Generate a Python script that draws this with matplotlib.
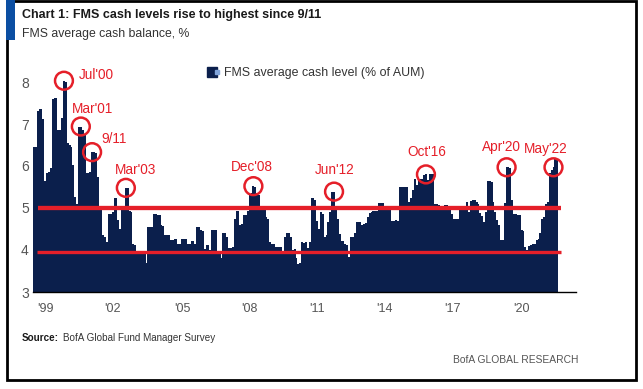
import matplotlib
matplotlib.use('Agg')
import matplotlib.pyplot as plt
from matplotlib.patches import Rectangle
from matplotlib.lines import Line2D
from matplotlib.legend_handler import HandlerTuple

plt.rcParams['font.family'] = ['Liberation Sans', 'DejaVu Sans']

# FMS average cash level (% of AUM), monthly, 1999 -> mid 2022
cash = [
    6.45, 6.45, 7.3, 7.35, 7.35, 7.13, 5.65, 5.83, 5.85, 5.95,
    7.6, 7.63, 7.63, 6.86, 6.86, 7.14, 8.03, 8.0, 6.54, 6.5,
    6.45, 6.02, 5.27, 5.1, 6.94, 6.94, 6.85, 6.74, 5.83, 5.83,
    5.85, 6.33, 6.33, 6.3, 5.75, 5.03, 5.03, 4.36, 4.3, 4.2,
    4.86, 4.86, 4.9, 5.25, 5.25, 4.71, 4.5, 4.97, 4.99, 5.48,
    5.48, 4.92, 4.9, 4.14, 4.12, 3.93, 3.93, 3.9, 3.9, 3.92,
    3.68, 4.54, 4.54, 4.55, 4.86, 4.86, 4.84, 4.84, 4.6, 4.56,
    4.36, 4.36, 4.36, 4.24, 4.25, 4.27, 4.27, 4.14, 4.14, 4.27,
    4.27, 4.26, 4.14, 4.14, 4.21, 4.21, 4.14, 4.54, 4.54, 4.47,
    4.45, 4.02, 4.12, 4.12, 3.99, 4.48, 4.48, 4.48, 3.92, 3.9,
    3.8, 4.4, 4.4, 4.3, 4.05, 4.05, 4.06, 4.75, 4.93, 4.93,
    4.6, 4.62, 4.83, 4.83, 4.93, 5.33, 5.35, 5.52, 5.5, 5.35,
    5.3, 5.03, 4.95, 4.95, 4.78, 4.75, 4.2, 4.14, 4.14, 4.06,
    4.06, 4.06, 4.06, 3.92, 4.32, 4.41, 4.41, 4.3, 4.0, 4.02,
    3.8, 3.66, 3.7, 4.2, 4.16, 4.18, 4.05, 4.2, 5.23, 5.23,
    5.2, 4.7, 4.5, 4.9, 4.85, 4.32, 4.35, 4.67, 4.9, 5.39,
    5.39, 4.98, 4.74, 4.38, 4.22, 4.22, 4.14, 4.12, 3.84, 4.32,
    4.32, 4.4, 4.67, 4.67, 4.67, 4.6, 4.62, 4.65, 4.79, 4.87,
    4.9, 4.92, 4.92, 4.93, 5.11, 5.12, 5.13, 5.0, 5.0, 4.97,
    4.97, 4.7, 4.7, 4.71, 4.7, 5.5, 5.5, 5.51, 5.51, 5.5,
    5.15, 5.25, 5.43, 5.68, 5.55, 5.68, 5.68, 5.7, 5.78, 5.8,
    5.66, 5.81, 5.81, 5.8, 5.1, 5.1, 5.08, 4.95, 5.0, 5.08,
    5.08, 4.95, 4.95, 4.85, 4.75, 4.75, 4.75, 4.95, 4.95, 5.0,
    5.05, 5.15, 4.9, 5.17, 5.18, 5.19, 5.15, 5.1, 4.87, 4.8,
    4.67, 4.9, 5.65, 5.65, 5.63, 5.15, 4.9, 4.71, 4.6, 4.24,
    4.24, 5.11, 5.97, 5.97, 5.95, 5.2, 4.86, 4.86, 4.83, 4.83,
    4.48, 4.45, 4.08, 3.99, 4.1, 4.12, 4.15, 4.15, 4.24, 4.27,
    4.4, 4.73, 4.79, 5.1, 5.15, 5.83, 5.9, 5.97, 6.18, 6.16,
]

year_labels = ["'99", "'02", "'05", "'08", "'11", "'14", "'17", "'20"]
year_pos = [6, 42, 79, 115, 151, 187, 223, 260]   # bar index under each label

# (label, bar index, text offset x/y in pixels, alignment)
callouts = [
    ("Jul'00", 16, 15, 6, 'left'),
    ("Mar'01", 25, 12, 18, 'center'),
    ("9/11", 31, 9, 13, 'left'),
    ("Mar'03", 49, 10, 18, 'center'),
    ("Dec'08", 117, -2, 19, 'center'),
    ("Jun'12", 160, 1, 22, 'center'),
    ("Oct'16", 209, 1, 22, 'center'),
    ("Apr'20", 252, -5, 20, 'center'),
    ("May'22", 277, -8, 18, 'center'),
]

sell_level = 5.0
buy_level = 3.95

NAVY = '#0b1f4c'
RED = '#e51f29'
GREY = '#555555'

W, H = 643, 389
fig = plt.figure(figsize=(W / 100, H / 100), dpi=100)

def fx(px):
    return px / W

def fy(py):
    return 1 - py / H

ax = fig.add_axes([fx(33), fy(292), fx(576) - fx(33), fy(61) - fy(292)])
ax.bar(range(len(cash)), cash, width=1.0, color=NAVY, linewidth=0)
ax.set_ylim(3, 8.5)
ax.set_xlim(-0.5, 289)

ax.hlines(sell_level, 2.2, 281, color=RED, lw=3.1, zorder=4)
ax.hlines(buy_level, 1.5, 281, color=RED, lw=2.4, zorder=4)

for label, i, dx, dy, ha in callouts:
    ax.scatter([i], [cash[i]], s=165, facecolors='none', edgecolors=RED,
               linewidths=1.8, zorder=5, clip_on=False)
    ax.annotate(label, (i, cash[i]), xytext=(dx, dy), textcoords='offset pixels',
                ha=ha, va='center', color=RED, fontsize=9.8)

ax.set_yticks([3, 4, 5, 6, 7, 8])
ax.set_xticks(year_pos)
ax.set_xticklabels(year_labels)
ax.tick_params(axis='y', length=0, pad=3, labelsize=10, labelcolor=GREY)
ax.tick_params(axis='x', length=0, pad=8, labelsize=9, labelcolor=GREY)
for s in ['top', 'right', 'left']:
    ax.spines[s].set_visible(False)
ax.spines['bottom'].set_linewidth(1)
ax.spines['bottom'].set_color('black')

leg_handle = (Line2D([], [], marker='s', ms=7, color=NAVY, ls=''),
              Line2D([], [], marker='s', ms=2.5, color='#7fa3d9', ls=''))
fig.legend([leg_handle], ['FMS average cash level (% of AUM)'],
           handler_map={tuple: HandlerTuple(ndivide=None)},
           loc='center left', bbox_to_anchor=(fx(209), fy(73)), frameon=False,
           fontsize=8.9, handlelength=0.9, handletextpad=0.3, borderpad=0,
           borderaxespad=0, labelcolor='#333333')

# frame and header
fig.add_artist(Rectangle((fx(7), fy(380)), fx(636) - fx(7), fy(1) - fy(380),
                         transform=fig.transFigure, fill=False, edgecolor='black', lw=2))
fig.add_artist(Rectangle((fx(6), fy(40)), fx(9), fy(0) - fy(40),
                         transform=fig.transFigure, facecolor='#0b4ea2', edgecolor='none'))
fig.text(fx(22), fy(15), "Chart 1: FMS cash levels rise to highest since 9/11",
         fontsize=9.0, fontweight='bold', va='center', color='#1a1a1a')
fig.text(fx(22), fy(34), "FMS average cash balance, %", fontsize=8.8, va='center', color='#333333')

src = fig.text(fx(22), fy(338), "Source:", fontsize=7.1, fontweight='bold', va='center', color='#1a1a1a')
ax.annotate("BofA Global Fund Manager Survey", xy=(1, 0.5), xycoords=src,
            xytext=(3, 0), textcoords='offset points', va='center', fontsize=7.1, color='#333333')
fig.text(fx(578), fy(360), "BofA GLOBAL RESEARCH", fontsize=7.4, ha='right', va='center', color=GREY)

fig.savefig('out.png', dpi=100)
